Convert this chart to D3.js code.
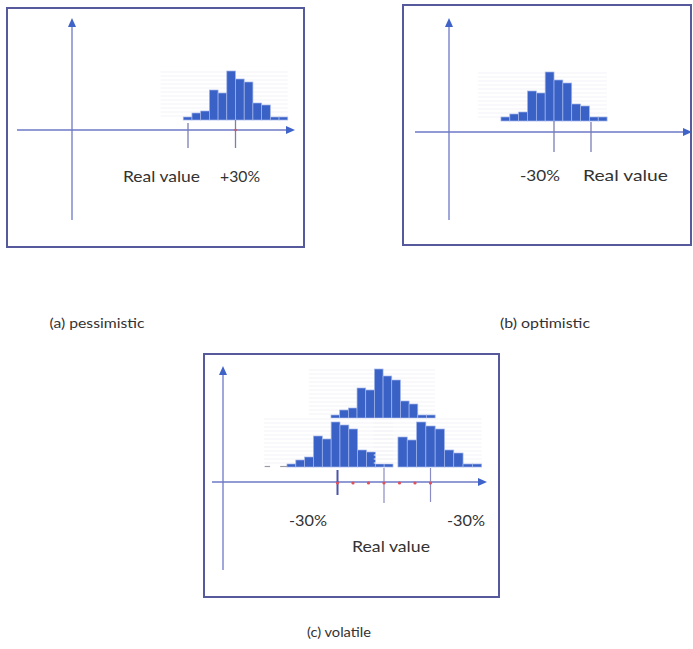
<!DOCTYPE html>
<html><head><meta charset="utf-8">
<script src="https://cdn.jsdelivr.net/npm/d3@7"></script>
<style>body{margin:0;background:#fff}svg{display:block}</style>
</head><body>
<svg id="chart" width="693" height="649"></svg>
<script>
// ---------------- data ----------------
// histogram frequencies
const pessimisticCounts   = [3, 7, 9, 30, 27, 49, 41, 38, 17, 15, 3, 3];
const optimisticCounts    = [4, 7, 9, 30, 28, 49, 41, 38, 17, 15, 4, 4];
const volatileTopCounts   = [3, 8, 10, 30, 28, 49, 42, 38, 17, 14, 3, 3];
const volatileLeftCounts  = [3, 7, 10, 31, 28, 45, 42, 38, 17, 15, 3, 3];
const volatileRightCounts = [30, 27, 45, 41, 38, 17, 14, 3, 3];
// bin start and width, in % deviation from the real value
const pessimisticBins   = [-3, 5.5];
const optimisticBins    = [-73, 7.17];
const volatileTopBins   = [-34.2, 5.6];
const volatileLeftBins  = [-62.6, 5.7];
const volatileRightBins = [9, 6.0];
const volatileLeftTail  = [[-77, -73.5], [-67, -62.6]];
// marker ticks (value in %, label)
const pessimisticMarkers = [0, 30];
const pessimisticLabels  = ["Real value", "+30%"];
const optimisticMarkers  = [-30, 0];
const optimisticLabels   = ["-30%", "Real value"];
const volatileMarkers    = [-30, 0, 30];
const volatileLabels     = ["-30%", "Real value", "-30%"];
const volatileDots       = [-30, -20, -10, 0, 10, 20, 30];
const captions           = ["(a) pessimistic", "(b) optimistic", "(c) volatile"];

// ---------------- style / layout ----------------
const BAR = "#3a62c6", BAR_EDGE = "#a3b6ea", AXIS = "#6d79c6", ARROW = "#3f63c6",
      FRAME = "#565a9c", TICK = "#7b7db5", TEXT = "#333", GRID = "#f3f3f7";
const FONT = "Lato, 'Open Sans', sans-serif";

const svg = d3.select("#chart");

function frame(x0, y0, x1, y1) {
  svg.append("rect").attr("x", x0).attr("y", y0).attr("width", x1 - x0).attr("height", y1 - y0)
    .attr("fill", "none").attr("stroke", FRAME).attr("stroke-width", 2);
}
function axes(ox, oy, yTop, yBot, xLeft, xRight) {
  const g = svg.append("g");
  g.append("line").attr("x1", ox).attr("x2", ox).attr("y1", yBot).attr("y2", yTop + 6)
    .attr("stroke", AXIS).attr("stroke-width", 1.3);
  g.append("path").attr("d", `M${ox},${yTop} L${ox - 4},${yTop + 9} L${ox + 4},${yTop + 9} Z`).attr("fill", ARROW);
  g.append("line").attr("x1", xLeft).attr("x2", xRight - 6).attr("y1", oy).attr("y2", oy)
    .attr("stroke", AXIS).attr("stroke-width", 1.3);
  g.append("path").attr("d", `M${xRight},${oy} L${xRight - 9},${oy - 4} L${xRight - 9},${oy + 4} Z`).attr("fill", ARROW);
}
function histogram(counts, bins, x, y) {
  const [start, w] = bins;
  const g = svg.append("g");
  const x0 = x(start - 2.6 * w), x1 = x(start + counts.length * w);
  g.selectAll("line.grid").data(d3.range(4, 50, 4)).join("line").attr("class", "grid")
    .attr("x1", x0).attr("x2", x1).attr("y1", d => y(d)).attr("y2", d => y(d))
    .attr("stroke", GRID).attr("stroke-width", 1);
  g.selectAll("rect").data(counts).join("rect")
    .attr("x", (d, i) => x(start + i * w))
    .attr("width", (d, i) => x(start + (i + 1) * w) - x(start + i * w))
    .attr("y", d => y(d)).attr("height", d => y(0) - y(d))
    .attr("fill", BAR).attr("stroke", BAR_EDGE).attr("stroke-width", 0.7);
}
function ticks(values, x, yTop, yBot, colors, widths) {
  svg.append("g").selectAll("line").data(values).join("line")
    .attr("x1", d => x(d)).attr("x2", d => x(d)).attr("y1", (d, i) => yTop[i]).attr("y2", (d, i) => yBot[i])
    .attr("stroke", (d, i) => colors[i]).attr("stroke-width", (d, i) => widths[i]);
}
function labels(values, texts, x, dx, ys, lens, size) {
  svg.append("g").selectAll("text").data(values).join("text")
    .attr("x", (d, i) => x(d) + dx[i]).attr("y", (d, i) => ys[i])
    .attr("text-anchor", "middle").attr("font-family", FONT).attr("font-size", size)
    .attr("fill", TEXT)
    .attr("textLength", (d, i) => lens[i]).attr("lengthAdjust", "spacingAndGlyphs")
    .text((d, i) => texts[i]);
}

// ---------------- panel (a) ----------------
frame(7, 8, 304, 247);
axes(72, 130, 18, 220, 17, 295);
const xA = d3.scaleLinear().domain([0, 30]).range([188, 235.5]);
const yA = d3.scaleLinear().domain([0, 50]).range([120, 70]);
histogram(pessimisticCounts, pessimisticBins, xA, yA);
ticks(pessimisticMarkers, xA, [123, 120], [148, 148], [TICK, TICK], [1.3, 1.3]);
svg.append("circle").attr("cx", xA(30)).attr("cy", 130).attr("r", 1.3).attr("fill", "#c45a6a");
labels(pessimisticMarkers, pessimisticLabels, xA, [-26.5, 4.5], [182, 182], [77, 40], 16);

// ---------------- panel (b) ----------------
frame(403, 5, 691, 245);
axes(449, 132, 18, 220, 415, 692);
const xB = d3.scaleLinear().domain([-30, 0]).range([554, 591]);
const yB = d3.scaleLinear().domain([0, 50]).range([121, 71]);
histogram(optimisticCounts, optimisticBins, xB, yB);
ticks(optimisticMarkers, xB, [121, 122], [152, 152], [TICK, TICK], [1.3, 1.3]);
labels(optimisticMarkers, optimisticLabels, xB, [-14, 34.5], [181, 181], [40, 85], 16);

// ---------------- panel (c) ----------------
frame(204, 354, 499, 597);
axes(223, 482, 366, 570, 212, 487);
const xC = d3.scaleLinear().domain([-30, 30]).range([337.5, 430.5]);
const yCTop = d3.scaleLinear().domain([0, 50]).range([418, 368]);
const yCBot = d3.scaleLinear().domain([0, 50]).range([467, 417]);
histogram(volatileTopCounts, volatileTopBins, xC, yCTop);
histogram(volatileLeftCounts, volatileLeftBins, xC, yCBot);
histogram(volatileRightCounts, volatileRightBins, xC, yCBot);
svg.append("g").selectAll("line").data(volatileLeftTail).join("line")
  .attr("x1", d => xC(d[0])).attr("x2", d => xC(d[1])).attr("y1", yCBot(0.5)).attr("y2", yCBot(0.5))
  .attr("stroke", "#9a9aa8").attr("stroke-width", 1.2);
ticks(volatileMarkers, xC, [470, 468, 468], [495, 503, 502], ["#4b55a8", "#8a8cc4", "#8a8cc4"], [2, 1.2, 1.2]);
svg.append("g").selectAll("circle").data(volatileDots).join("circle")
  .attr("cx", d => xC(d)).attr("cy", 483).attr("r", 1.6).attr("fill", "#e0505a");
labels(volatileMarkers, volatileLabels, xC, [-29.5, 7, 35.5], [526, 552, 526], [38, 78, 38], 16);

// ---------------- captions ----------------
svg.append("g").selectAll("text").data(captions).join("text")
  .attr("x", (d, i) => [97, 545, 339][i]).attr("y", (d, i) => [328, 328, 637][i])
  .attr("text-anchor", "middle").attr("font-family", FONT).attr("font-size", 14)
  .attr("fill", TEXT)
  .attr("textLength", (d, i) => [95, 90, 64][i]).attr("lengthAdjust", "spacingAndGlyphs")
  .text(d => d);
</script>
</body></html>
